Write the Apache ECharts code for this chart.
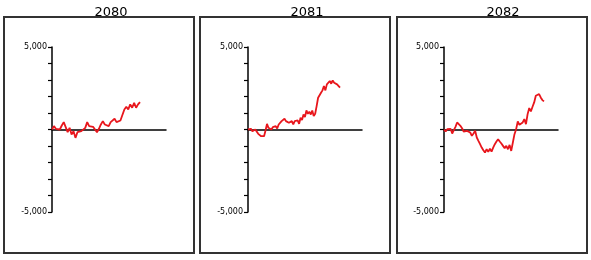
<!DOCTYPE html>
<html><head><meta charset="utf-8">
<script src="https://cdn.jsdelivr.net/npm/echarts@6/dist/echarts.min.js"></script>
<style>html,body{margin:0;padding:0;background:#fff}#c{width:591px;height:260px}</style>
</head><body><div id="c"></div>
<script>
const panelTitles = ['2080', '2081', '2082'];
const yTickLabels = {'5000': '5,000', '-5000': '-5,000'};
const values2080 = [0, 203, 41, 142, 0, 243, 446, 142, -162, 101, -304, -101, -507, -162, -243, -101, -203, 101, 446, 203, 101, 162, 0, -162, 41, 304, 507, 304, 405, 203, 446, 345, 648, 446, 507, 547, 608, 1216, 1378, 1216, 1520, 1317, 1621, 1317, 1520, 1662];
const values2081 = [0, -61, 41, -101, -203, 0, -101, -263, -345, -405, -304, -405, -61, 344, 101, 203, 0, 142, 41, 203, 61, 304, 203, 507, 405, 648, 507, 547, 405, 304, 507, 304, 507, 405, 547, 344, 709, 567, 912, 750, 1155, 952, 1074, 912, 1155, 810, 952, 1418, 1925, 1823, 2229, 2370, 2634, 2370, 2735, 2634, 2938, 2776, 2978, 2836, 2897, 2735, 2634, 2533];
const values2082 = [0, -122, 20, -81, 41, -243, -41, 162, 426, 324, 223, 81, -122, -41, -81, -20, -182, -385, -243, -81, -486, -689, -891, -1094, -1256, -1398, -1195, -1357, -1155, -1337, -1094, -891, -729, -588, -729, -851, -993, -1135, -993, -1196, -932, -1297, -790, -284, 20, 486, 284, 223, 426, 628, 324, 932, 1297, 1094, 1378, 1641, 2046, 1945, 2148, 1945, 1783, 1702];
const seriesValues = [values2080, values2081, values2082];

// layout
const boxes = [[4, 17, 190, 236], [200, 17, 190, 236], [397, 17, 190, 236]];
const axisLefts = [52, 248, 444];
const titleX = [106, 302, 498];
const dataSpan = [88, 92, 100];
const plotW = 114;

const chart = echarts.init(document.getElementById('c'));
const grids = [], xAxes = [], yAxes = [], series = [], titles = [], graphics = [];
seriesValues.forEach((vals, i) => {
  grids.push({left: axisLefts[i], top: 47, width: plotW, height: 165, containLabel: false});
  xAxes.push({type: 'value', gridIndex: i, min: 0, max: (vals.length - 1) * plotW / dataSpan[i],
    axisLine: {onZero: true, lineStyle: {color: '#000', width: 1.5}},
    axisTick: {show: false}, axisLabel: {show: false}, splitLine: {show: false}});
  yAxes.push({type: 'value', gridIndex: i, min: -5000, max: 5000, interval: 1000,
    axisLine: {show: true, onZero: false, lineStyle: {color: '#000', width: 1.5}},
    axisTick: {show: true, length: 4, lineStyle: {color: '#000', width: 1.2}},
    axisLabel: {show: true, margin: 5, fontSize: 8, fontFamily: 'DejaVu Sans', color: '#000',
      padding: [3, 0, 0, 0],
      formatter: v => yTickLabels[String(v)] || ''},
    splitLine: {show: false}});
  series.push({type: 'line', xAxisIndex: i, yAxisIndex: i, showSymbol: false, symbol: 'none',
    data: vals.map((v, k) => [k, v]), lineStyle: {color: '#e8161c', width: 1.8}});
  titles.push({text: panelTitles[i], left: titleX[i], top: 1, textAlign: 'center',
    textStyle: {fontSize: 13, fontWeight: 'normal', fontFamily: 'DejaVu Sans', color: '#000'}});
  const b = boxes[i];
  graphics.push({type: 'rect', shape: {x: b[0], y: b[1], width: b[2], height: b[3]},
    style: {fill: 'none', stroke: '#333', lineWidth: 2}, silent: true, z: 0});
});

chart.setOption({
  animation: false,
  title: titles,
  grid: grids,
  xAxis: xAxes,
  yAxis: yAxes,
  series: series,
  graphic: graphics
});
</script></body></html>
